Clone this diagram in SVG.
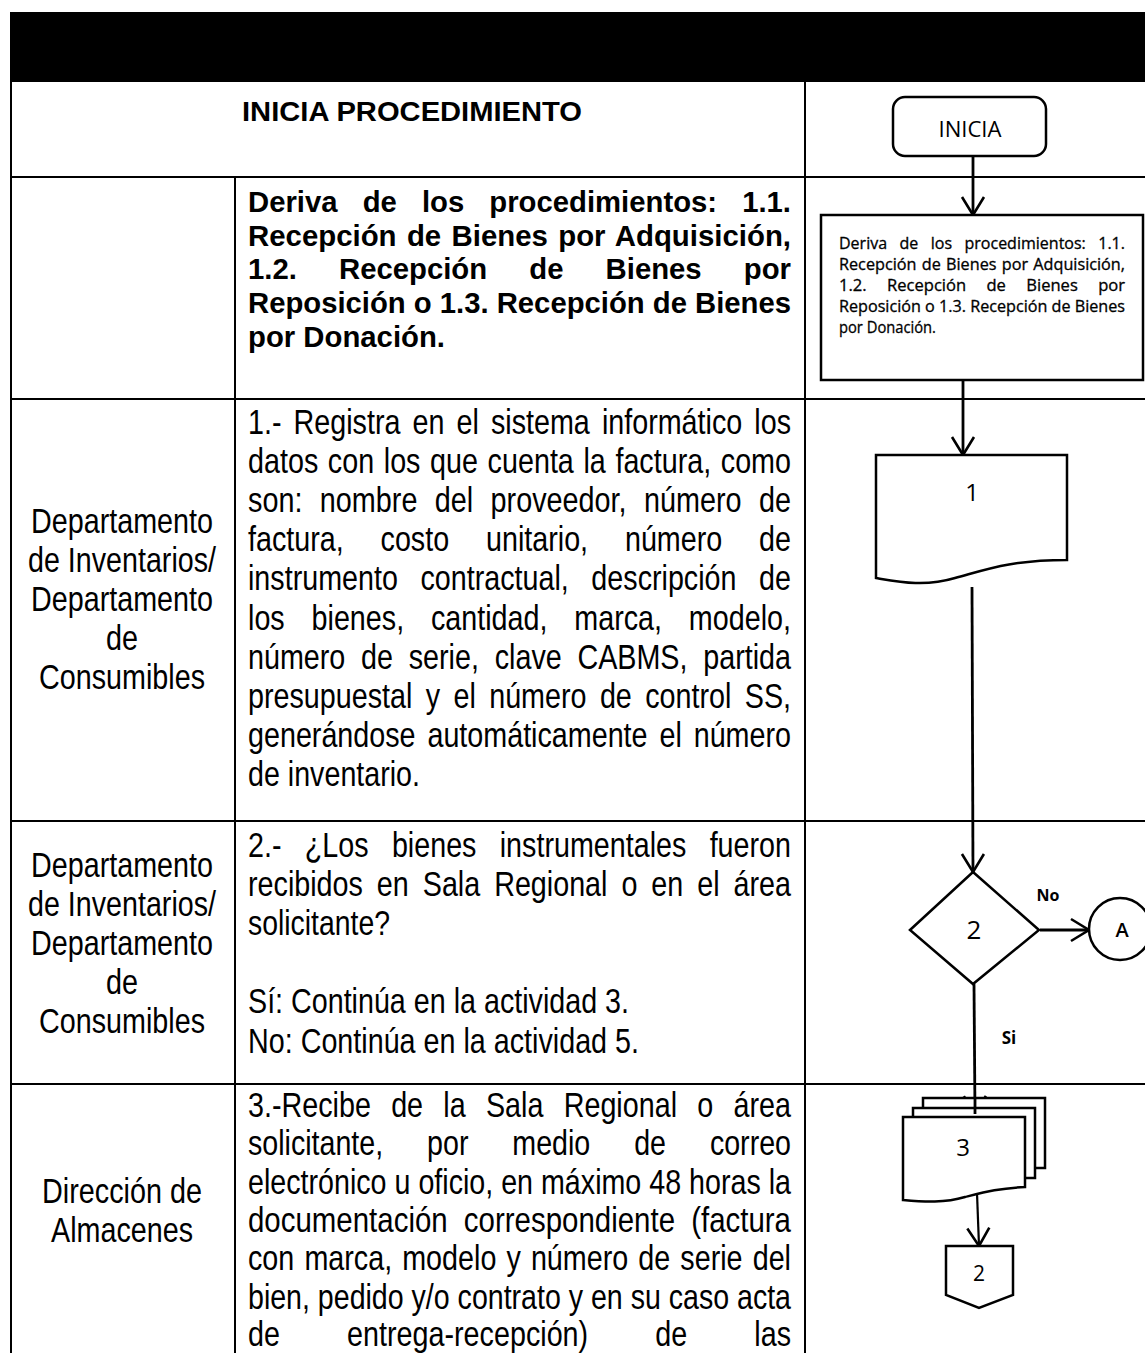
<svg xmlns="http://www.w3.org/2000/svg" width="1145" height="1353" viewBox="0 0 1145 1353">
<style>
.grid{stroke:#000;stroke-width:2;fill:none}
.shape{stroke:#000;stroke-width:2.5;fill:#fff}
.conn{stroke:#000;stroke-width:2.8;fill:none;marker-end:url(#arr)}
.n{font-family:"Liberation Sans",Arial,sans-serif;font-size:35px;fill:#000}
.b{font-family:"Liberation Sans",Arial,sans-serif;font-size:29.3px;font-weight:bold;fill:#000}
.s{font-family:"Open Sans","Liberation Sans",sans-serif;font-size:15.5px;fill:#000;stroke:#000;stroke-width:0.3}
.c{font-family:"Open Sans","Liberation Sans",sans-serif;fill:#000;text-anchor:middle}
.lab{text-anchor:middle}
</style>
<defs>
<marker id="arr" markerUnits="userSpaceOnUse" markerWidth="24" markerHeight="26" refX="20" refY="12" orient="auto" overflow="visible">
<path d="M2,1 L20,12 L2,23" fill="none" stroke="#000" stroke-width="2.6"/>
</marker>
</defs>
<rect width="1145" height="1353" fill="#fff"/>
<g id="table">
<rect x="10" y="12" width="1135" height="70" fill="#000"/>
<line class="grid" x1="11" y1="82" x2="11" y2="1353"/>
<line class="grid" x1="235" y1="177" x2="235" y2="1353"/>
<line class="grid" x1="805" y1="82" x2="805" y2="1353"/>
<line class="grid" x1="10" y1="177" x2="1145" y2="177"/>
<line class="grid" x1="10" y1="399" x2="1145" y2="399"/>
<line class="grid" x1="10" y1="821" x2="1145" y2="821"/>
<line class="grid" x1="10" y1="1084" x2="1145" y2="1084"/>
<text class="b" x="412" y="121" text-anchor="middle" style="font-size:27.5px" textLength="340" lengthAdjust="spacingAndGlyphs">INICIA PROCEDIMIENTO</text>
</g>
<g id="row2-text">
<text class="b" x="248" y="212" style="word-spacing:17px" textLength="543" lengthAdjust="spacingAndGlyphs">Deriva de los procedimientos: 1.1.</text>
<text class="b" x="248" y="245.7" style="word-spacing:2.2px" textLength="543" lengthAdjust="spacingAndGlyphs">Recepción de Bienes por Adquisición,</text>
<text class="b" x="248" y="279.4" style="word-spacing:34px" textLength="543" lengthAdjust="spacingAndGlyphs">1.2. Recepción de Bienes por</text>
<text class="b" x="248" y="313.1" textLength="543" lengthAdjust="spacingAndGlyphs">Reposición o 1.3. Recepción de Bienes</text>
<text class="b" x="248" y="346.8" textLength="197" lengthAdjust="spacingAndGlyphs">por Donación.</text>
</g>
<g id="row3-text">
<text class="n lab" x="122" y="533" textLength="182" lengthAdjust="spacingAndGlyphs">Departamento</text>
<text class="n lab" x="122" y="572" textLength="188" lengthAdjust="spacingAndGlyphs">de Inventarios/</text>
<text class="n lab" x="122" y="611" textLength="182" lengthAdjust="spacingAndGlyphs">Departamento</text>
<text class="n lab" x="122" y="650" textLength="32" lengthAdjust="spacingAndGlyphs">de</text>
<text class="n lab" x="122" y="689" textLength="166" lengthAdjust="spacingAndGlyphs">Consumibles</text>
<text class="n" x="248" y="434" style="word-spacing:5px" textLength="543" lengthAdjust="spacingAndGlyphs">1.- Registra en el sistema informático los</text>
<text class="n" x="248" y="473.1" style="word-spacing:2px" textLength="543" lengthAdjust="spacingAndGlyphs">datos con los que cuenta la factura, como</text>
<text class="n" x="248" y="512.2" style="word-spacing:11.4px" textLength="543" lengthAdjust="spacingAndGlyphs">son: nombre del proveedor, número de</text>
<text class="n" x="248" y="551.3" style="word-spacing:35.2px" textLength="543" lengthAdjust="spacingAndGlyphs">factura, costo unitario, número de</text>
<text class="n" x="248" y="590.4" style="word-spacing:17.8px" textLength="543" lengthAdjust="spacingAndGlyphs">instrumento contractual, descripción de</text>
<text class="n" x="248" y="629.5" style="word-spacing:23px" textLength="543" lengthAdjust="spacingAndGlyphs">los bienes, cantidad, marca, modelo,</text>
<text class="n" x="248" y="668.6" style="word-spacing:9.5px" textLength="543" lengthAdjust="spacingAndGlyphs">número de serie, clave CABMS, partida</text>
<text class="n" x="248" y="707.7" style="word-spacing:6.6px" textLength="543" lengthAdjust="spacingAndGlyphs">presupuestal y el número de control SS,</text>
<text class="n" x="248" y="746.8" style="word-spacing:4.8px" textLength="543" lengthAdjust="spacingAndGlyphs">generándose automáticamente el número</text>
<text class="n" x="248" y="785.9" textLength="172" lengthAdjust="spacingAndGlyphs">de inventario.</text>
</g>
<g id="row4-text">
<text class="n lab" x="122" y="876.5" textLength="182" lengthAdjust="spacingAndGlyphs">Departamento</text>
<text class="n lab" x="122" y="915.6" textLength="188" lengthAdjust="spacingAndGlyphs">de Inventarios/</text>
<text class="n lab" x="122" y="954.7" textLength="182" lengthAdjust="spacingAndGlyphs">Departamento</text>
<text class="n lab" x="122" y="993.8" textLength="32" lengthAdjust="spacingAndGlyphs">de</text>
<text class="n lab" x="122" y="1032.9" textLength="166" lengthAdjust="spacingAndGlyphs">Consumibles</text>
<text class="n" x="248" y="857" style="word-spacing:18.7px" textLength="543" lengthAdjust="spacingAndGlyphs">2.- ¿Los bienes instrumentales fueron</text>
<text class="n" x="248" y="896.1" style="word-spacing:7.3px" textLength="543" lengthAdjust="spacingAndGlyphs">recibidos en Sala Regional o en el área</text>
<text class="n" x="248" y="935.2" textLength="142" lengthAdjust="spacingAndGlyphs">solicitante?</text>
<text class="n" x="248" y="1013.4" textLength="381" lengthAdjust="spacingAndGlyphs">Sí: Continúa en la actividad 3.</text>
<text class="n" x="248" y="1052.5" textLength="391" lengthAdjust="spacingAndGlyphs">No: Continúa en la actividad 5.</text>
</g>
<g id="row5-text">
<text class="n lab" x="122" y="1203" textLength="160" lengthAdjust="spacingAndGlyphs">Dirección de</text>
<text class="n lab" x="122" y="1242" textLength="142" lengthAdjust="spacingAndGlyphs">Almacenes</text>
<text class="n" x="248" y="1117" style="word-spacing:15px" textLength="543" lengthAdjust="spacingAndGlyphs">3.-Recibe de la Sala Regional o área</text>
<text class="n" x="248" y="1155.3" style="word-spacing:44px" textLength="543" lengthAdjust="spacingAndGlyphs">solicitante, por medio de correo</text>
<text class="n" x="248" y="1193.6" textLength="543" lengthAdjust="spacingAndGlyphs">electrónico u oficio, en máximo 48 horas la</text>
<text class="n" x="248" y="1231.9" style="word-spacing:9.5px" textLength="543" lengthAdjust="spacingAndGlyphs">documentación correspondiente (factura</text>
<text class="n" x="248" y="1270.2" style="word-spacing:2.6px" textLength="543" lengthAdjust="spacingAndGlyphs">con marca, modelo y número de serie del</text>
<text class="n" x="248" y="1308.5" textLength="543" lengthAdjust="spacingAndGlyphs">bien, pedido y/o contrato y en su caso acta</text>
<text class="n" x="248" y="1345.5" style="word-spacing:72px" textLength="543" lengthAdjust="spacingAndGlyphs">de entrega-recepción) de las</text>
</g>
<g id="connectors">
<line class="conn" x1="973" y1="156" x2="973" y2="215"/>
<line class="conn" x1="963" y1="380" x2="963" y2="455"/>
<line class="conn" x1="972" y1="587" x2="973" y2="872"/>
<line class="conn" x1="1040" y1="930" x2="1089" y2="930"/>
<line class="conn" x1="974" y1="984" x2="975" y2="1114"/>
<line class="conn" x1="977" y1="1193" x2="979" y2="1246" style="stroke-width:2.2"/>
<text class="c" x="1048" y="901" style="font-size:16px;font-weight:bold">No</text>
<text class="c" x="1009" y="1044" style="font-size:17px;font-weight:bold">Si</text>
</g>
<g id="node-inicia">
<rect class="shape" x="893" y="97" width="153" height="59" rx="12"/>
<text class="c" x="970" y="137" style="font-size:22px" textLength="63" lengthAdjust="spacingAndGlyphs">INICIA</text>
</g>
<g id="node-deriva">
<rect class="shape" x="821" y="215" width="322" height="165"/>
<text class="s" x="839" y="249" style="word-spacing:8px" textLength="286" lengthAdjust="spacingAndGlyphs">Deriva de los procedimientos: 1.1.</text>
<text class="s" x="839" y="270" style="word-spacing:1px" textLength="286" lengthAdjust="spacingAndGlyphs">Recepción de Bienes por Adquisición,</text>
<text class="s" x="839" y="291" style="word-spacing:15px" textLength="286" lengthAdjust="spacingAndGlyphs">1.2. Recepción de Bienes por</text>
<text class="s" x="839" y="312" textLength="286" lengthAdjust="spacingAndGlyphs">Reposición o 1.3. Recepción de Bienes</text>
<text class="s" x="839" y="333" textLength="97" lengthAdjust="spacingAndGlyphs">por Donación.</text>
</g>
<g id="node-1">
<path class="shape" d="M876,455 L1067,455 L1067,560 C1010,560 985,570 955,578 C925,587 900,582 876,578 Z"/>
<text class="c" x="972" y="501" style="font-size:24px">1</text>
</g>
<g id="node-2">
<polygon class="shape" points="910,930 973,872 1039,930 973,984"/>
<text class="c" x="974" y="939" style="font-size:26px">2</text>
</g>
<g id="node-A">
<circle class="shape" cx="1120" cy="929" r="31"/>
<text class="c" x="1122" y="937" style="font-size:20px;font-weight:600">A</text>
</g>
<g id="node-3">
<path class="shape" d="M923,1108 L923,1098 L1045,1098 L1045,1168 L1035,1168"/>
<path class="shape" d="M913,1117 L913,1108 L1035,1108 L1035,1178 L1025,1178"/>
<path class="shape" d="M903,1117 L1025,1117 L1025,1187 C1000,1188 985,1192 965,1197 C945,1203 925,1202 903,1200 Z"/>
<text class="c" x="963" y="1156" style="font-size:24px">3</text>
</g>
<g id="node-offpage-2">
<path class="shape" d="M946,1246 L1013,1246 L1013,1295 L979,1308 L946,1295 Z"/>
<text class="c" x="979" y="1281" style="font-size:21px">2</text>
</g>
<line x1="975" y1="1098" x2="975" y2="1114" stroke="#000" stroke-width="2.8"/>
</svg>
